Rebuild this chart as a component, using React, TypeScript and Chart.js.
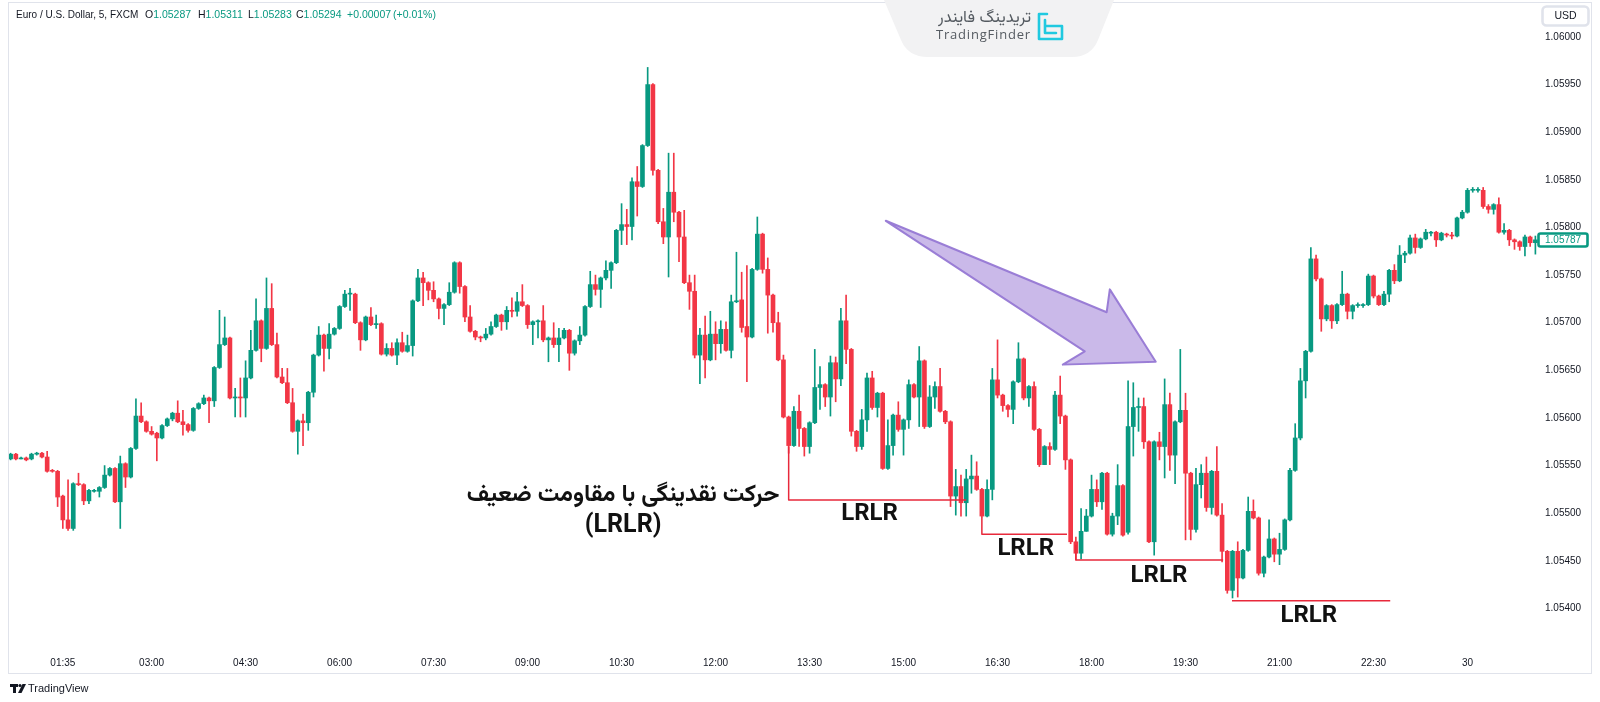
import React, { useEffect, useRef } from 'react';
import { Chart, registerables } from 'chart.js';

Chart.register(...registerables);

// ---------- DATA (EUR/USD 5m) ----------
const opens = [
  1.05557,1.05562,1.05557,1.05558,1.05557,1.05562,1.05563,1.05559,1.05545,1.05544,
  1.05518,1.05493,1.05484,1.05531,1.05530,1.05513,1.05523,1.05523,1.05527,1.05540,
  1.05547,1.05512,1.05552,1.05538,1.05568,1.05602,1.05596,1.05586,1.05584,1.05579,
  1.05592,1.05599,1.05605,1.05596,1.05593,1.05587,1.05610,1.05615,1.05621,1.05618,
  1.05653,1.05677,1.05684,1.05621,1.05622,1.05621,1.05642,1.05671,1.05702,1.05673,
  1.05715,1.05677,1.05643,1.05637,1.05616,1.05586,1.05597,1.05595,1.05627,1.05666,
  1.05687,1.05673,1.05688,1.05694,1.05717,1.05730,1.05730,1.05700,1.05682,1.05706,
  1.05698,1.05699,1.05667,1.05673,1.05666,1.05679,1.05670,1.05676,1.05723,1.05747,
  1.05742,1.05734,1.05725,1.05715,1.05719,1.05732,1.05763,1.05738,1.05706,1.05691,
  1.05685,1.05684,1.05688,1.05696,1.05708,1.05701,1.05713,1.05712,1.05722,1.05718,
  1.05698,1.05701,1.05702,1.05682,1.05684,1.05677,1.05684,1.05692,1.05668,1.05681,
  1.05687,1.05717,1.05740,1.05735,1.05747,1.05755,1.05763,1.05797,1.05803,1.05801,
  1.05848,1.05843,1.05886,1.05950,1.05860,1.05806,1.05790,1.05837,1.05816,1.05790,
  1.05742,1.05733,1.05666,1.05687,1.05661,1.05688,1.05678,1.05693,1.05671,1.05722,
  1.05724,1.05696,1.05685,1.05756,1.05793,1.05756,1.05729,1.05700,1.05661,1.05601,
  1.05571,1.05607,1.05589,1.05570,1.05595,1.05632,1.05635,1.05622,1.05658,1.05641,
  1.05702,1.05672,1.05586,1.05570,1.05598,1.05642,1.05611,1.05626,1.05547,1.05571,
  1.05603,1.05588,1.05598,1.05635,1.05622,1.05660,1.05591,1.05622,1.05633,1.05607,
  1.05596,1.05518,1.05528,1.05511,1.05536,1.05539,1.05525,1.05497,1.05525,1.05640,
  1.05624,1.05613,1.05609,1.05638,1.05662,1.05621,1.05633,1.05588,1.05551,1.05570,
  1.05567,1.05624,1.05602,1.05556,1.05470,1.05458,1.05481,1.05497,1.05525,1.05512,
  1.05542,1.05478,1.05497,1.05529,1.05480,1.05591,1.05611,1.05612,1.05575,1.05470,
  1.05575,1.05570,1.05614,1.05561,1.05596,1.05608,1.05542,1.05483,1.05530,1.05542,
  1.05506,1.05544,1.05498,1.05460,1.05419,1.05460,1.05432,1.05461,1.05502,1.05495,
  1.05437,1.05454,1.05473,1.05457,1.05462,1.05493,1.05545,1.05579,1.05639,1.05670,
  1.05767,1.05746,1.05704,1.05718,1.05702,1.05719,1.05730,1.05712,1.05718,1.05718,
  1.05719,1.05749,1.05728,1.05719,1.05730,1.05755,1.05744,1.05771,1.05773,1.05789,
  1.05779,1.05788,1.05794,1.05795,1.05787,1.05793,1.05792,1.05791,1.05810,1.05816,
  1.05839,1.05839,1.05839,1.05822,1.05819,1.05824,1.05795,1.05797,1.05787,1.05785,
  1.05780,1.05790,1.05784
];
const highs = [
  1.05563,1.05563,1.05559,1.05559,1.05563,1.05564,1.05564,1.05565,1.05546,1.05545,
  1.05519,1.05535,1.05532,1.05542,1.05531,1.05525,1.05525,1.05528,1.05550,1.05548,
  1.05548,1.05560,1.05553,1.05569,1.05620,1.05616,1.05597,1.05591,1.05585,1.05593,
  1.05600,1.05606,1.05618,1.05608,1.05594,1.05611,1.05616,1.05624,1.05622,1.05654,
  1.05713,1.05706,1.05685,1.05631,1.05642,1.05660,1.05692,1.05725,1.05703,1.05747,
  1.05741,1.05689,1.05652,1.05652,1.05631,1.05598,1.05604,1.05628,1.05667,1.05696,
  1.05688,1.05699,1.05695,1.05718,1.05734,1.05736,1.05731,1.05701,1.05707,1.05716,
  1.05708,1.05700,1.05678,1.05679,1.05683,1.05690,1.05687,1.05724,1.05756,1.05753,
  1.05743,1.05743,1.05726,1.05720,1.05742,1.05764,1.05764,1.05739,1.05718,1.05692,
  1.05686,1.05694,1.05701,1.05709,1.05709,1.05717,1.05726,1.05732,1.05740,1.05719,
  1.05702,1.05703,1.05718,1.05685,1.05700,1.05694,1.05694,1.05693,1.05682,1.05696,
  1.05718,1.05754,1.05750,1.05748,1.05765,1.05764,1.05798,1.05825,1.05819,1.05852,
  1.05864,1.05887,1.05968,1.05951,1.05861,1.05820,1.05878,1.05878,1.05817,1.05818,
  1.05750,1.05750,1.05694,1.05707,1.05712,1.05701,1.05702,1.05701,1.05729,1.05774,
  1.05753,1.05760,1.05757,1.05811,1.05794,1.05768,1.05730,1.05711,1.05666,1.05602,
  1.05612,1.05624,1.05590,1.05596,1.05672,1.05654,1.05636,1.05665,1.05664,1.05715,
  1.05729,1.05673,1.05587,1.05609,1.05647,1.05649,1.05627,1.05627,1.05598,1.05604,
  1.05617,1.05599,1.05640,1.05636,1.05675,1.05661,1.05634,1.05638,1.05652,1.05608,
  1.05597,1.05546,1.05540,1.05546,1.05561,1.05554,1.05526,1.05535,1.05652,1.05682,
  1.05625,1.05614,1.05639,1.05679,1.05663,1.05634,1.05638,1.05589,1.05571,1.05574,
  1.05628,1.05644,1.05603,1.05557,1.05475,1.05505,1.05504,1.05540,1.05535,1.05543,
  1.05543,1.05500,1.05551,1.05530,1.05639,1.05637,1.05621,1.05621,1.05576,1.05576,
  1.05585,1.05641,1.05626,1.05597,1.05672,1.05626,1.05543,1.05547,1.05551,1.05559,
  1.05545,1.05570,1.05510,1.05461,1.05461,1.05470,1.05462,1.05517,1.05514,1.05496,
  1.05455,1.05493,1.05474,1.05479,1.05494,1.05547,1.05594,1.05652,1.05671,1.05779,
  1.05771,1.05747,1.05719,1.05719,1.05720,1.05754,1.05731,1.05719,1.05721,1.05720,
  1.05751,1.05750,1.05729,1.05733,1.05756,1.05761,1.05781,1.05775,1.05792,1.05793,
  1.05789,1.05798,1.05796,1.05796,1.05795,1.05794,1.05795,1.05811,1.05818,1.05841,
  1.05842,1.05842,1.05842,1.05824,1.05825,1.05831,1.05804,1.05798,1.05788,1.05786,
  1.05792,1.05791,1.05791
];
const lows = [
  1.05556,1.05556,1.05557,1.05555,1.05556,1.05561,1.05558,1.05543,1.05543,1.05507,
  1.05484,1.05482,1.05482,1.05529,1.05509,1.05510,1.05522,1.05517,1.05526,1.05539,
  1.05511,1.05484,1.05527,1.05537,1.05567,1.05595,1.05585,1.05582,1.05555,1.05578,
  1.05591,1.05597,1.05595,1.05582,1.05585,1.05586,1.05609,1.05614,1.05595,1.05612,
  1.05652,1.05676,1.05620,1.05601,1.05601,1.05601,1.05641,1.05670,1.05659,1.05672,
  1.05676,1.05642,1.05636,1.05615,1.05585,1.05562,1.05571,1.05587,1.05622,1.05665,
  1.05649,1.05662,1.05687,1.05693,1.05716,1.05713,1.05699,1.05671,1.05681,1.05697,
  1.05694,1.05666,1.05665,1.05665,1.05656,1.05669,1.05669,1.05665,1.05722,1.05718,
  1.05724,1.05722,1.05704,1.05698,1.05718,1.05731,1.05731,1.05701,1.05690,1.05682,
  1.05680,1.05682,1.05687,1.05695,1.05692,1.05693,1.05706,1.05707,1.05717,1.05694,
  1.05677,1.05684,1.05680,1.05659,1.05674,1.05659,1.05683,1.05650,1.05666,1.05677,
  1.05686,1.05716,1.05729,1.05716,1.05745,1.05736,1.05762,1.05782,1.05782,1.05787,
  1.05812,1.05842,1.05885,1.05855,1.05804,1.05783,1.05748,1.05806,1.05764,1.05741,
  1.05714,1.05663,1.05636,1.05642,1.05660,1.05661,1.05668,1.05670,1.05663,1.05721,
  1.05690,1.05638,1.05684,1.05755,1.05752,1.05689,1.05690,1.05660,1.05600,1.05563,
  1.05570,1.05570,1.05560,1.05563,1.05594,1.05609,1.05612,1.05602,1.05617,1.05634,
  1.05657,1.05581,1.05565,1.05567,1.05586,1.05609,1.05601,1.05546,1.05546,1.05561,
  1.05586,1.05561,1.05589,1.05621,1.05591,1.05589,1.05590,1.05610,1.05606,1.05594,
  1.05507,1.05498,1.05497,1.05497,1.05521,1.05524,1.05496,1.05496,1.05514,1.05621,
  1.05607,1.05601,1.05594,1.05637,1.05619,1.05612,1.05587,1.05549,1.05551,1.05551,
  1.05566,1.05594,1.05546,1.05468,1.05451,1.05452,1.05481,1.05496,1.05507,1.05504,
  1.05477,1.05476,1.05488,1.05476,1.05478,1.05560,1.05586,1.05568,1.05469,1.05456,
  1.05556,1.05537,1.05545,1.05531,1.05595,1.05472,1.05472,1.05480,1.05516,1.05502,
  1.05499,1.05497,1.05449,1.05416,1.05411,1.05412,1.05431,1.05460,1.05494,1.05435,
  1.05433,1.05453,1.05449,1.05446,1.05461,1.05492,1.05544,1.05577,1.05621,1.05669,
  1.05744,1.05691,1.05702,1.05694,1.05699,1.05718,1.05704,1.05704,1.05716,1.05716,
  1.05718,1.05726,1.05718,1.05718,1.05722,1.05741,1.05743,1.05763,1.05772,1.05773,
  1.05778,1.05787,1.05791,1.05780,1.05786,1.05790,1.05788,1.05790,1.05809,1.05815,
  1.05837,1.05837,1.05820,1.05815,1.05814,1.05794,1.05793,1.05781,1.05777,1.05776,
  1.05770,1.05780,1.05772
];
const closes = [
  1.05562,1.05557,1.05558,1.05556,1.05562,1.05563,1.05559,1.05544,1.05544,1.05517,
  1.05493,1.05484,1.05531,1.05530,1.05513,1.05524,1.05524,1.05527,1.05540,1.05547,
  1.05512,1.05552,1.05538,1.05568,1.05602,1.05596,1.05586,1.05583,1.05579,1.05592,
  1.05599,1.05605,1.05596,1.05593,1.05587,1.05610,1.05615,1.05621,1.05618,1.05653,
  1.05677,1.05684,1.05621,1.05622,1.05621,1.05642,1.05671,1.05702,1.05673,1.05715,
  1.05677,1.05643,1.05637,1.05616,1.05586,1.05597,1.05595,1.05627,1.05666,1.05687,
  1.05673,1.05688,1.05694,1.05717,1.05730,1.05730,1.05700,1.05682,1.05706,1.05698,
  1.05699,1.05667,1.05673,1.05666,1.05679,1.05670,1.05676,1.05723,1.05747,1.05742,
  1.05734,1.05725,1.05715,1.05719,1.05732,1.05763,1.05738,1.05706,1.05691,1.05685,
  1.05684,1.05688,1.05696,1.05708,1.05701,1.05713,1.05712,1.05722,1.05718,1.05698,
  1.05701,1.05702,1.05682,1.05684,1.05677,1.05684,1.05692,1.05668,1.05681,1.05687,
  1.05717,1.05740,1.05735,1.05747,1.05755,1.05763,1.05797,1.05803,1.05801,1.05848,
  1.05843,1.05886,1.05950,1.05860,1.05806,1.05790,1.05837,1.05816,1.05790,1.05742,
  1.05733,1.05666,1.05687,1.05661,1.05688,1.05678,1.05693,1.05671,1.05722,1.05723,
  1.05695,1.05685,1.05756,1.05793,1.05756,1.05729,1.05700,1.05661,1.05601,1.05571,
  1.05607,1.05589,1.05570,1.05595,1.05632,1.05635,1.05622,1.05658,1.05641,1.05702,
  1.05672,1.05586,1.05570,1.05598,1.05642,1.05611,1.05626,1.05547,1.05571,1.05603,
  1.05588,1.05598,1.05635,1.05622,1.05660,1.05591,1.05622,1.05633,1.05607,1.05596,
  1.05518,1.05528,1.05511,1.05536,1.05539,1.05525,1.05497,1.05525,1.05640,1.05624,
  1.05613,1.05609,1.05638,1.05662,1.05621,1.05633,1.05588,1.05551,1.05570,1.05567,
  1.05624,1.05602,1.05556,1.05470,1.05458,1.05481,1.05497,1.05525,1.05512,1.05542,
  1.05478,1.05497,1.05529,1.05477,1.05591,1.05611,1.05612,1.05575,1.05470,1.05575,
  1.05570,1.05614,1.05561,1.05596,1.05608,1.05542,1.05483,1.05530,1.05542,1.05506,
  1.05544,1.05498,1.05460,1.05419,1.05460,1.05432,1.05461,1.05502,1.05495,1.05437,
  1.05454,1.05473,1.05457,1.05462,1.05493,1.05545,1.05579,1.05639,1.05670,1.05767,
  1.05746,1.05704,1.05718,1.05702,1.05719,1.05730,1.05712,1.05718,1.05718,1.05719,
  1.05749,1.05728,1.05719,1.05730,1.05755,1.05744,1.05771,1.05773,1.05789,1.05779,
  1.05788,1.05795,1.05794,1.05787,1.05794,1.05792,1.05791,1.05810,1.05816,1.05839,
  1.05839,1.05840,1.05822,1.05819,1.05824,1.05795,1.05797,1.05787,1.05785,1.05780,
  1.05790,1.05784,1.05787
];

const firstBarMinute = 45; // 00:45
const barMinutes = 5;
const dayMarkLabel = '30';
const xTickLabels = ['01:35','03:00','04:30','06:00','07:30','09:00','10:30','12:00','13:30','15:00','16:30','18:00','19:30','21:00','22:30','30'];
const yTickValues = [1.054,1.0545,1.055,1.0555,1.056,1.0565,1.057,1.0575,1.058,1.0585,1.059,1.0595,1.06];
const yMin = 1.053585;
const yMax = 1.060388;

// header texts
const symbolTitle = 'Euro / U.S. Dollar, 5, FXCM';
const ohlcHeader = [['O','1.05287'],['H','1.05311'],['L','1.05283'],['C','1.05294']];
const changeText = '+0.00007';
const changePct = '(+0.01%)';

// annotations in data space (bar index, price)
const lrlrLines = [
  { from: 149, to: 183, top: 1.05570, level: 1.05514 },
  { from: 186, to: 202.3, top: 1.05496, level: 1.05478 },
  { from: 204, to: 232.2, top: 1.05467, level: 1.05451 },
  { from: 233.9, to: 264.2, top: null, level: 1.05408 },
];
const lrlrLabels = [
  { x: 164.5, y: 1.05499 },
  { x: 194.4, y: 1.05462 },
  { x: 219.9, y: 1.05434 },
  { x: 248.6, y: 1.05392 },
];
const arrowPoints = [
  [167.6, 1.05807], [209.9, 1.05711], [210.5, 1.05735],
  [219.3, 1.05659], [201.5, 1.05656], [205.7, 1.05670],
];
const noteLines = ['حرکت نقدینگی با مقاومت ضعیف', '(LRLR)'];
const noteX = 117.3;
const noteY = [1.05517, 1.05487];

const GREEN = '#089981';
const RED = '#f23645';
const TEXT = '#131722';
const FONT = '"Liberation Sans", Arial, sans-serif';
const FA_FONT = '"Vazirmatn", "Noto Sans Arabic", "DejaVu Sans", sans-serif';

function buildTimeLabels(n: number): string[] {
  const out: string[] = [];
  for (let i = 0; i < n; i++) {
    const m = firstBarMinute + i * barMinutes;
    if (m % 1440 === 0) { out.push(dayMarkLabel); continue; }
    const h = Math.floor(m / 60) % 24;
    const mm = m % 60;
    out.push(String(h).padStart(2, '0') + ':' + String(mm).padStart(2, '0'));
  }
  return out;
}

export default function App() {
  const ref = useRef<HTMLCanvasElement>(null);
  useEffect(() => {
    document.body.style.margin = '0';
    const canvas = ref.current;
    if (!canvas) return;
    const labels = buildTimeLabels(opens.length);
    const colors = closes.map((c, i) => (c >= opens[i] ? GREEN : RED));

    const overlay = {
      id: 'overlay',
      beforeDraw(chart: any) {
        const ctx = chart.ctx;
        ctx.save();
        ctx.fillStyle = '#ffffff';
        ctx.fillRect(0, 0, chart.width, chart.height);
        ctx.restore();
      },
      afterDatasetsDraw(chart: any) {
        const ctx = chart.ctx;
        const xs = chart.scales.x;
        const ys = chart.scales.y;
        const px = (v: number) => xs.getPixelForValue(v);
        const py = (v: number) => ys.getPixelForValue(v);
        ctx.save();
        // arrow
        ctx.beginPath();
        arrowPoints.forEach((p, i) => {
          const X = px(p[0]); const Y = py(p[1]);
          if (i === 0) ctx.moveTo(X, Y); else ctx.lineTo(X, Y);
        });
        ctx.closePath();
        ctx.fillStyle = 'rgba(166,138,218,0.6)';
        ctx.fill();
        ctx.strokeStyle = 'rgba(150,120,212,0.95)';
        ctx.lineWidth = 2;
        ctx.lineJoin = 'round';
        ctx.stroke();

        // LRLR lines
        ctx.strokeStyle = '#e8293b';
        ctx.lineWidth = 1.5;
        lrlrLines.forEach((l) => {
          ctx.beginPath();
          if (l.top !== null) {
            ctx.moveTo(px(l.from), py(l.top));
            ctx.lineTo(px(l.from), py(l.level));
          } else {
            ctx.moveTo(px(l.from), py(l.level));
          }
          ctx.lineTo(px(l.to), py(l.level));
          ctx.stroke();
        });

        // LRLR labels
        ctx.fillStyle = '#111111';
        ctx.font = 'bold 24px Roboto, "Noto Sans", sans-serif';
        ctx.textAlign = 'center';
        ctx.textBaseline = 'middle';
        lrlrLabels.forEach((t) => ctx.fillText('LRLR', px(t.x), py(t.y)));

        // Persian note
        const nx = px(noteX);
        ctx.direction = 'rtl';
        let fs = 22;
        ctx.font = `bold ${fs}px ${FA_FONT}`;
        const w = ctx.measureText(noteLines[0]).width;
        if (w > 0) fs = Math.max(14, Math.min(30, fs * 313 / w));
        ctx.font = `bold ${fs}px ${FA_FONT}`;
        ctx.fillText(noteLines[0], nx, py(noteY[0]));
        ctx.direction = 'ltr';
        ctx.font = 'bold 25px Roboto, "Noto Sans", sans-serif';
        ctx.fillText(noteLines[1], nx, py(noteY[1]));
        ctx.restore();
      },
      afterDraw(chart: any) {
        const ctx = chart.ctx;
        const ys = chart.scales.y;
        ctx.save();
        // frame
        ctx.strokeStyle = '#e0e3eb';
        ctx.lineWidth = 1;
        ctx.strokeRect(8.5, 2.5, 1583, 671);

        // logo badge
        ctx.beginPath();
        ctx.moveTo(884, 0);
        ctx.lineTo(901, 40);
        ctx.quadraticCurveTo(908, 57, 928, 57);
        ctx.lineTo(1072, 57);
        ctx.quadraticCurveTo(1091, 57, 1098, 40);
        ctx.lineTo(1114, 0);
        ctx.closePath();
        ctx.fillStyle = '#f2f2f3';
        ctx.fill();
        ctx.fillStyle = '#555b61';
        ctx.textBaseline = 'middle';
        ctx.direction = 'rtl';
        ctx.textAlign = 'right';
        ctx.font = `16.5px ${FA_FONT}`;
        ctx.fillText('تریدینگ فایندر', 1031, 19);
        ctx.direction = 'ltr';
        ctx.textAlign = 'left';
        ctx.font = '13px "Open Sans", sans-serif';
        (ctx as any).letterSpacing = '0.8px';
        ctx.fillText('TradingFinder', 936, 35);
        (ctx as any).letterSpacing = '0px';
        // icon
        ctx.strokeStyle = '#20c9e0';
        ctx.lineWidth = 2.6;
        ctx.lineJoin = 'round';
        ctx.lineCap = 'round';
        ctx.beginPath();
        ctx.moveTo(1047, 14);
        ctx.lineTo(1039, 14);
        ctx.lineTo(1039, 39);
        ctx.lineTo(1062, 39);
        ctx.lineTo(1062, 26);
        ctx.lineTo(1046, 26);
        ctx.stroke();
        ctx.beginPath();
        ctx.moveTo(1045, 20);
        ctx.lineTo(1045, 33);
        ctx.lineTo(1056, 33);
        ctx.stroke();

        // header
        ctx.textAlign = 'left';
        ctx.textBaseline = 'middle';
        ctx.font = `10px ${FONT}`;
        ctx.fillStyle = TEXT;
        ctx.fillText(symbolTitle, 16, 15);
        ctx.font = `10.5px ${FONT}`;
        const ohlcX = [145, 198, 248, 296];
        ohlcHeader.forEach((p, i) => {
          ctx.fillStyle = TEXT;
          ctx.fillText(p[0], ohlcX[i], 15);
          const lw = ctx.measureText(p[0]).width;
          ctx.fillStyle = GREEN;
          ctx.fillText(p[1], ohlcX[i] + lw, 15);
        });
        ctx.fillStyle = GREEN;
        ctx.fillText(changeText, 347, 15);
        ctx.fillText(changePct, 393, 15);

        // USD box
        ctx.fillStyle = '#ffffff';
        ctx.strokeStyle = '#e0e3eb';
        ctx.beginPath();
        (ctx as any).roundRect(1542.5, 6.5, 46, 19, 4);
        ctx.fill();
        ctx.stroke();
        ctx.fillStyle = TEXT;
        ctx.textAlign = 'center';
        ctx.font = `10.5px ${FONT}`;
        ctx.fillText('USD', 1565.5, 16.5);

        // last price label
        const last = closes[closes.length - 1];
        const ly = Math.round(ys.getPixelForValue(last));
        ctx.fillStyle = '#ffffff';
        ctx.strokeStyle = GREEN;
        ctx.beginPath();
        (ctx as any).roundRect(1538.5, ly - 6.5, 49, 13, 2);
        ctx.fill();
        ctx.stroke();
        ctx.fillStyle = GREEN;
        ctx.textAlign = 'left';
        ctx.font = `10px ${FONT}`;
        ctx.fillText(last.toFixed(5), 1545, ly + 0.5);

        // footer TradingView mark
        ctx.fillStyle = TEXT;
        ctx.fillRect(10, 684, 8, 3);
        ctx.fillRect(13, 684, 3, 9);
        ctx.beginPath();
        ctx.arc(20, 685.5, 1.6, 0, Math.PI * 2);
        ctx.fill();
        ctx.beginPath();
        ctx.moveTo(22.5, 684);
        ctx.lineTo(26, 684);
        ctx.lineTo(21.5, 693);
        ctx.lineTo(18, 693);
        ctx.closePath();
        ctx.fill();
        ctx.font = `11px ${FONT}`;
        ctx.textAlign = 'left';
        ctx.fillText('TradingView', 28, 689);
        ctx.restore();
      },
    };

    const chart = new Chart(canvas, {
      type: 'bar',
      data: {
        labels,
        datasets: [
          {
            label: 'wick',
            data: lows.map((l, i) => [l, highs[i]]) as any,
            backgroundColor: colors,
            barThickness: 1,
            grouped: false,
            order: 2,
          } as any,
          {
            label: 'body',
            data: opens.map((o, i) => [o, closes[i]]) as any,
            backgroundColor: colors,
            barThickness: 4,
            minBarLength: 1,
            grouped: false,
            order: 1,
          } as any,
        ],
      },
      options: {
        responsive: false,
        maintainAspectRatio: false,
        animation: false,
        devicePixelRatio: 1,
        layout: { padding: { left: 8, top: 0, right: 0, bottom: 0 } },
        plugins: { legend: { display: false }, tooltip: { enabled: false } },
        scales: {
          x: {
            type: 'category',
            offset: true,
            grid: { display: false, drawTicks: false },
            border: { display: false },
            ticks: {
              autoSkip: false,
              maxRotation: 0,
              minRotation: 0,
              padding: 9,
              color: TEXT,
              font: { size: 10, family: FONT },
            },
            afterBuildTicks: (s: any) => {
              s.ticks = xTickLabels
                .map((l) => ({ value: labels.indexOf(l) }))
                .filter((t) => t.value >= 0);
            },
            afterFit: (s: any) => {
              s.height = 54;
              s.paddingLeft = 0;
              s.paddingRight = 0;
            },
          },
          y: {
            type: 'linear',
            position: 'right',
            min: yMin,
            max: yMax,
            grid: { display: false, drawTicks: false },
            border: { display: false },
            ticks: {
              padding: 7,
              color: TEXT,
              font: { size: 10, family: FONT },
              callback: (v: any) => Number(v).toFixed(5),
            },
            afterBuildTicks: (s: any) => {
              s.ticks = yTickValues.map((v) => ({ value: v }));
            },
            afterFit: (s: any) => {
              s.width = 62;
              s.paddingTop = 0;
              s.paddingBottom = 0;
            },
          },
        },
      } as any,
      plugins: [overlay],
    });
    return () => chart.destroy();
  }, []);

  return (
    <div style={{ position: 'absolute', left: 0, top: 0, width: 1600, height: 702, background: '#fff' }}>
      <canvas ref={ref} width={1600} height={702} style={{ display: 'block', width: 1600, height: 702 }} />
    </div>
  );
}
